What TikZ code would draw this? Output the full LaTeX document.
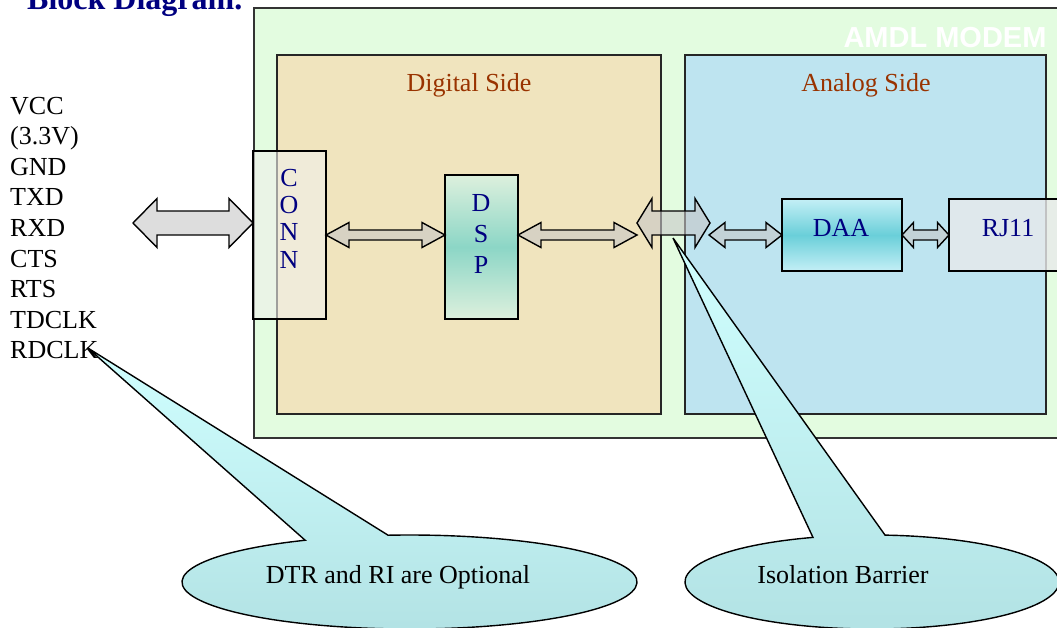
\documentclass[tikz,border=0pt]{standalone}
\usepackage{fontspec}
\setmainfont{Liberation Serif}
\setsansfont{Liberation Sans}
\usetikzlibrary{calc}

\definecolor{navytxt}{RGB}{0,0,128}
\definecolor{sidetxt}{RGB}{153,51,0}
\definecolor{modemfill}{RGB}{227,252,224}
\definecolor{digfill}{RGB}{240,228,190}
\definecolor{anafill}{RGB}{190,228,240}
\definecolor{dsplight}{RGB}{221,240,221}
\definecolor{dspdark}{RGB}{140,214,198}
\definecolor{daalight}{RGB}{196,239,246}
\definecolor{daadark}{RGB}{106,207,217}
\definecolor{calltop}{RGB}{208,255,255}
\definecolor{callbot}{RGB}{178,226,228}
\definecolor{papfill}{RGB}{240,240,235}
\definecolor{rjfill}{RGB}{232,234,235}

% from, to, half shaft, half head, head length
\newcommand{\fatarrow}[5]{%
  \draw[fatarr] (#1) -- ($(#1)+(#5,#4)$) -- ($(#1)+(#5,#3)$) -- ($(#2)+(-#5,#3)$) -- ($(#2)+(-#5,#4)$) -- (#2)
    -- ($(#2)+(-#5,-#4)$) -- ($(#2)+(-#5,-#3)$) -- ($(#1)+(#5,-#3)$) -- ($(#1)+(#5,-#4)$) -- cycle;}

\begin{document}
\begin{tikzpicture}[x=1pt, y=1pt,
	txt/.style={font=\fontsize{26}{30}\selectfont, inner sep=0pt},
	blocktxt/.style={txt, text=navytxt, anchor=base},
	blk/.style={draw, line width=1.3pt, inner sep=0pt, outer sep=0pt},
	fatarr/.style={draw, line width=1.4pt, fill=black!22, fill opacity=0.6, line join=miter},
	callout/.style={draw, line width=1.4pt, top color=calltop, bottom color=callbot}]

	\useasboundingbox (0,0) rectangle (1057,-627);
	\clip (0,0) rectangle (1057,-627);

%title
	\node[font=\bfseries\fontsize{32}{36}\selectfont, text=navytxt, anchor=base west, inner sep=0pt] (title) at (27,-9) {Block Diagram.};

%boxes
	\draw[line width=2pt, draw=black!80, fill=modemfill] (254,-8) rectangle (1075,-438);
	\draw[line width=1.4pt, draw=black!85, fill=digfill] (277,-55) rectangle (661,-414);
	\draw[line width=1.4pt, draw=black!85, fill=anafill] (685,-55) rectangle (1046,-414);

	\node[font=\sffamily\bfseries\fontsize{29}{32}\selectfont, text=white, anchor=base, inner sep=0pt] (modemlbl) at (945,-47) {AMDL MODEM};
	\node[txt, text=sidetxt, anchor=base] (diglbl) at (469,-91) {Digital Side};
	\node[txt, text=sidetxt, anchor=base] (analbl) at (866,-91) {Analog Side};

%blocks
	\node[blk, fill=papfill, fill opacity=0.6, minimum width=73pt, minimum height=168pt] (conn) at (289.5,-235) {};
	\node[blk, top color=dsplight, bottom color=dsplight, middle color=dspdark, minimum width=73pt, minimum height=144pt] (dsp) at (481.5,-247) {};
	\node[blk, top color=daalight, bottom color=daalight, middle color=daadark, minimum width=120pt, minimum height=72pt] (daa) at (842,-235) {};
	\node[blk, fill=rjfill, fill opacity=0.8, minimum width=120pt, minimum height=72pt] (rj) at (1009,-235) {};

	\foreach \c/\y [count=\i] in {C/186, O/213, N/240, N/268}{
		\node[blocktxt] (connl\i) at (289,-\y) {\c};
	}
	\foreach \c/\y [count=\i] in {D/211, S/242, P/273}{
		\node[blocktxt] (dspl\i) at (481,-\y) {\c};
	}
	\node[blocktxt] (daal) at (841,-236) {DAA};
	\node[blocktxt] (rjl) at (1008,-236) {RJ11};

%pins
	\foreach \t [count=\i] in {VCC, {(3.3V)}, GND, TXD, RXD, CTS, RTS, TDCLK, RDCLK}{
		\node[txt, anchor=base west] (pin\i) at (10,{-114-30.6*(\i-1)}) {\t};
	}

%arrows
	\coordinate (pins) at (133,-223);
	\coordinate (connin) at (conn.west |- pins);
	\coordinate (dspin) at (dsp.west |- conn.east);
	\coordinate (dspout) at (dsp.east |- conn.east);
	\coordinate (isoin) at (637,-235);
	\coordinate (isol) at (637,-223);
	\coordinate (isor) at (710,-223);
	\coordinate (isoout) at (709,-235);

	\fatarrow{pins}{connin}{12}{24.5}{24}
	\fatarrow{conn.east}{dspin}{5}{12.5}{23}
	\fatarrow{dspout}{isoin}{5}{12.5}{23}
	\fatarrow{isol}{isor}{12}{24.5}{15}
	\fatarrow{isoout}{daa.west}{5}{12.5}{16}
	\fatarrow{daa.east}{rj.west}{5}{12.5}{11.5}

%callouts
	\coordinate (tipa) at ($(pin9.base east)+(-11,11)$);
	\coordinate (tipb) at (673,-238);
	\coordinate (cA) at (409.5,-582);
	\coordinate (cB) at (872,-582);

	\draw[callout] (tipa) -- ($(cA)+(117.3:227.5 and 47)$) arc[start angle=117.3, end angle=455.4, x radius=227.5, y radius=47] -- cycle;
	\draw[callout] (tipb) -- ($(cB)+(108.4:187 and 47)$) arc[start angle=108.4, end angle=446.0, x radius=187, y radius=47] -- cycle;

	\node[txt, anchor=base] (optlbl) at (398,-583) {DTR and RI are Optional};
	\node[txt, anchor=base] (isolbl) at (843,-583) {Isolation Barrier};

\end{tikzpicture}
\end{document}
